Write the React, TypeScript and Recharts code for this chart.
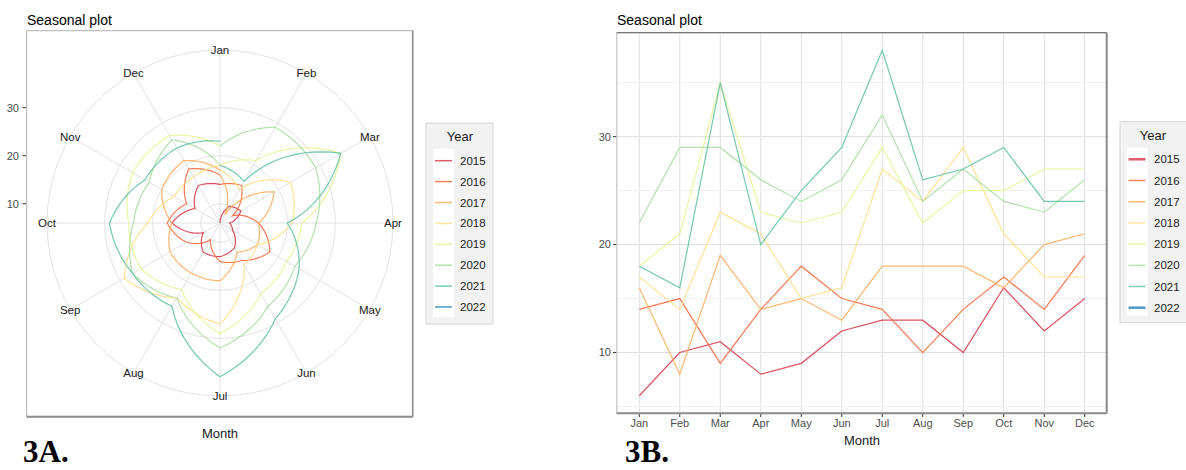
import {
    RadarChart, Radar, PolarGrid, PolarAngleAxis, PolarRadiusAxis,
    LineChart, Line, XAxis, YAxis, CartesianGrid, ReferenceLine,
} from 'recharts';

// Monthly values per year
const months = ['Jan', 'Feb', 'Mar', 'Apr', 'May', 'Jun', 'Jul', 'Aug', 'Sep', 'Oct', 'Nov', 'Dec'];
const years = [2015, 2016, 2017, 2018, 2019, 2020, 2021, 2022];

const values2015 = [6, 10, 11, 8, 9, 12, 13, 13, 10, 16, 12, 15];
const values2016 = [14, 15, 9, 14, 18, 15, 14, 10, 14, 17, 14, 19];
const values2017 = [16, 8, 19, 14, 15, 13, 18, 18, 18, 16, 20, 21];
const values2018 = [17, 14, 23, 21, 15, 16, 27, 24, 29, 21, 17, 17];
const values2019 = [18, 21, 35, 23, 22, 23, 29, 22, 25, 25, 27, 27];
const values2020 = [22, 29, 29, 26, 24, 26, 32, 24, 27, 24, 23, 26];
const values2021 = [18, 16, 35, 20, 25, 29, 38, 26, 27, 29, 24, 24];
const values2022 = [23];

const yearValues = [values2015, values2016, values2017, values2018, values2019, values2020, values2021, values2022];
const yearColors = ['#D53E4F', '#F46D43', '#FDAE61', '#FEE08B', '#E6F598', '#ABDDA4', '#66C2A5', '#3288BD'];

const valueTicks = [10, 20, 30];
const minorTicks = [5, 15, 25, 35];

// one row per month; cNNNN holds the Dec -> next Jan link used by the polar view
const rows = months.map((month, i) => {
    const row: Record<string, any> = { month, idx: i + 1 };
    years.forEach((year, k) => {
        const v = yearValues[k][i];
        if (v !== undefined) row[`y${year}`] = v;
        const next = yearValues[k + 1];
        if (next && yearValues[k].length === 12) {
            if (i === 11) row[`c${year}`] = yearValues[k][11];
            if (i === 0 && next[0] !== undefined) row[`c${year}`] = next[0];
        }
    });
    return row;
});

const FONT = '"Liberation Sans", Arial, sans-serif';
const CX = 220;
const CY = 223;
const R_OUT = 173;
const RAD = Math.PI / 180;

// coord_polar style: straight segments in (angle, radius) space become spirals
function spiralPath(pts: any[]) {
    let d = '';
    pts.forEach((p, i) => {
        if (i === 0) {
            d += `M${p.x},${p.y}`;
            return;
        }
        const q = pts[i - 1];
        let a1 = p.angle;
        if (a1 > q.angle) a1 -= 360;
        const steps = 12;
        for (let s = 1; s <= steps; s++) {
            const t = s / steps;
            const a = q.angle + (a1 - q.angle) * t;
            const r = q.radius + (p.radius - q.radius) * t;
            d += `L${(CX + r * Math.cos(-a * RAD)).toFixed(2)},${(CY + r * Math.sin(-a * RAD)).toFixed(2)}`;
        }
    });
    return d;
}

const openShape = (props: any) => {
    const pts = (props.points || []).filter((p: any) => p.value != null);
    return <path d={spiralPath(pts)} fill="none" stroke={props.stroke} strokeWidth={1.2} strokeOpacity={0.9} />;
};

const linkShape = (props: any) => {
    const pts = (props.points || []).filter((p: any) => p.value != null);
    if (pts.length < 2) return <g />;
    const [jan, dec] = pts;
    return <path d={spiralPath([dec, jan])} fill="none" stroke={props.stroke} strokeWidth={1.2} strokeOpacity={0.9} />;
};

const monthTick = (props: any) => {
    const { x, y, payload } = props;
    const dx = x - CX;
    const dy = y - CY;
    const len = Math.sqrt(dx * dx + dy * dy) || 1;
    return (
        <text x={CX + dx * R_OUT / len} y={CY + dy * R_OUT / len} textAnchor="middle" dominantBaseline="central"
            fontSize={11.5} fill="#1a1a1a" fontFamily={FONT}>
            {payload.value}
        </text>
    );
};

const radiusTick = (props: any) => {
    const { y, payload } = props;
    if (!valueTicks.includes(payload.value)) return <g />;
    return (
        <g>
            <line x1={22.5} x2={26.7} y1={y} y2={y} stroke="#333" strokeWidth={1} />
            <text x={19} y={y} textAnchor="end" dominantBaseline="central" fontSize={11} fill="#4d4d4d" fontFamily={FONT}>
                {payload.value}
            </text>
        </g>
    );
};

function LegendBox({ x, y, width, keyX, labelX, titleX, firstY, step, thick }: any) {
    return (
        <g>
            <rect x={x} y={y} width={width} height={201} fill="#f2f2f2" stroke="#d6d6d6" />
            <rect x={keyX - 2} y={y + 26} width={21} height={168} fill="#ffffff" />
            <text x={titleX} y={y + 18} textAnchor="middle" fontSize={13} fill="#1a1a1a" fontFamily={FONT}>Year</text>
            {years.map((year, k) => (
                <g key={year}>
                    <line x1={keyX} x2={keyX + 17} y1={firstY + k * step} y2={firstY + k * step}
                        stroke={yearColors[k]} strokeWidth={thick && (k === 0 || k === 7) ? 2.5 : 1.5} strokeOpacity={0.85} />
                    <text x={labelX} y={firstY + k * step} dominantBaseline="central" fontSize={11.5} fill="#1a1a1a" fontFamily={FONT}>
                        {year}
                    </text>
                </g>
            ))}
        </g>
    );
}

export default function App() {
    return (
        <div style={{ position: 'absolute', left: 0, top: 0, width: 1186, height: 470, background: '#fff', overflow: 'hidden' }}>
            {/* polar seasonal plot */}
            <div style={{ position: 'absolute', left: 0, top: 0 }}>
                <RadarChart width={440} height={470} cx={CX} cy={CY} outerRadius={R_OUT} data={rows}
                    startAngle={90} endAngle={-270} margin={{ top: 0, right: 0, bottom: 0, left: 0 }}>
                    <PolarGrid gridType="circle" stroke="#e2e2e2" />
                    <PolarAngleAxis dataKey="month" tick={monthTick} tickLine={false} axisLine={{ stroke: '#e2e2e2' }}
                        axisLineType="circle" />
                    <PolarRadiusAxis type="number" domain={[6, 42]} ticks={valueTicks} angle={90} axisLine={false}
                        tickLine={false} tick={radiusTick} />
                    {years.map((year, k) => (
                        <Radar key={`y${year}`} dataKey={`y${year}`} stroke={yearColors[k]} fill="none"
                            shape={openShape} isAnimationActive={false} />
                    ))}
                    {years.slice(0, -1).map((year, k) => (
                        <Radar key={`c${year}`} dataKey={`c${year}`} stroke={yearColors[k]} fill="none"
                            shape={linkShape} connectNulls isAnimationActive={false} />
                    ))}
                </RadarChart>
            </div>

            {/* seasonal line plot */}
            <div style={{ position: 'absolute', left: 560, top: 0 }}>
                <LineChart width={560} height={470} data={rows} margin={{ top: 33, right: 13, bottom: 0, left: 0 }}>
                    {minorTicks.map(v => (
                        <ReferenceLine key={v} y={v} stroke="#f1f1f1" strokeWidth={1} ifOverflow="hidden" />
                    ))}
                    <CartesianGrid stroke="#e0e0e0" strokeWidth={1} />
                    <XAxis dataKey="idx" type="number" domain={[0.45, 12.55]} ticks={[1, 2, 3, 4, 5, 6, 7, 8, 9, 10, 11, 12]}
                        tickFormatter={(i: number) => months[i - 1]} height={57} axisLine={false}
                        tickLine={{ stroke: '#333' }} tickSize={4} tickMargin={2}
                        tick={{ fontSize: 11, fill: '#4d4d4d', fontFamily: FONT }} />
                    <YAxis type="number" domain={[4.4, 39.6]} ticks={valueTicks} width={57} axisLine={false}
                        tickLine={{ stroke: '#333' }} tickSize={4} tickMargin={2}
                        tick={{ fontSize: 11, fill: '#4d4d4d', fontFamily: FONT }} />
                    {years.map((year, k) => (
                        <Line key={year} type="linear" dataKey={`y${year}`} stroke={yearColors[k]} strokeWidth={1.2}
                            strokeOpacity={0.9} dot={false} isAnimationActive={false} />
                    ))}
                </LineChart>
            </div>

            {/* titles, panel frames and legends */}
            <svg width={1186} height={470} style={{ position: 'absolute', left: 0, top: 0, pointerEvents: 'none' }}>
                <rect x={26.7} y={30.7} width={386} height={386} fill="none" stroke="#b0b0b0" strokeWidth={1} />
                <line x1={26.7} x2={412.7} y1={416.7} y2={416.7} stroke="#8c8c8c" strokeWidth={2} />
                <line x1={412.7} x2={412.7} y1={30.7} y2={416.7} stroke="#8c8c8c" strokeWidth={1.5} />

                <rect x={616.7} y={32.7} width={490} height={380.6} fill="none" stroke="#c8c8c8" strokeWidth={1} />
                <line x1={616.7} x2={1106.7} y1={32.7} y2={32.7} stroke="#666" strokeWidth={1} />
                <line x1={616.7} x2={1106.7} y1={413.3} y2={413.3} stroke="#8c8c8c" strokeWidth={2} />
                <line x1={1106.7} x2={1106.7} y1={32.7} y2={413.3} stroke="#8c8c8c" strokeWidth={2} />

                <text x={27} y={25} fontSize={14} fill="#000" fontFamily={FONT}>Seasonal plot</text>
                <text x={617} y={25} fontSize={14} fill="#000" fontFamily={FONT}>Seasonal plot</text>
                <text x={220} y={437.5} textAnchor="middle" fontSize={13} fill="#1a1a1a" fontFamily={FONT}>Month</text>
                <text x={862} y={444.5} textAnchor="middle" fontSize={13} fill="#1a1a1a" fontFamily={FONT}>Month</text>
                <text x={23} y={462} fontSize={31} fontWeight="bold" fill="#000" fontFamily='"Liberation Serif", serif'>3A.</text>
                <text x={625} y={462} fontSize={31} fontWeight="bold" fill="#000" fontFamily='"Liberation Serif", serif'>3B.</text>

                <LegendBox x={426} y={123} width={67} keyX={435} labelX={460} titleX={460} firstY={160.7} step={20.9} thick={false} />
                <LegendBox x={1120} y={121.7} width={80} keyX={1128.5} labelX={1154} titleX={1153} firstY={159.3} step={21.2} thick />
            </svg>
        </div>
    );
}
